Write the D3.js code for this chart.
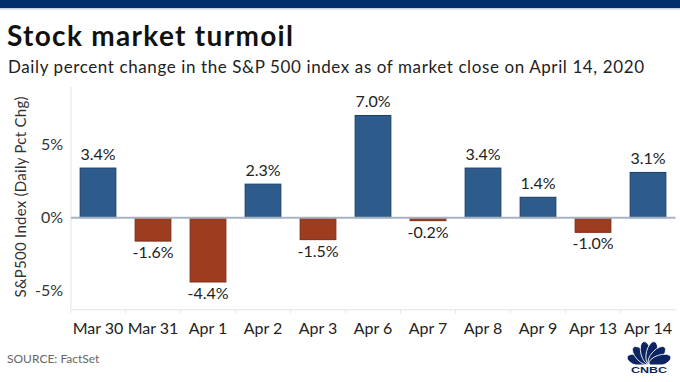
<!DOCTYPE html>
<html>
<head>
<meta charset="utf-8">
<script src="https://cdn.jsdelivr.net/npm/d3@7"></script>
<style>
    body { margin: 0; background: #fff; }
    svg { display: block; font-family: Lato, "Open Sans", sans-serif; }
</style>
</head>
<body>
<div id="chart"></div>
<script>
// data
const days = ['Mar 30', 'Mar 31', 'Apr 1', 'Apr 2', 'Apr 3', 'Apr 6', 'Apr 7', 'Apr 8', 'Apr 9', 'Apr 13', 'Apr 14'];
const pctChange = [3.4, -1.6, -4.4, 2.3, -1.5, 7.0, -0.2, 3.4, 1.4, -1.0, 3.1];
const yTicks = [-5, 0, 5];

var width = 680, height = 382;
const margin = { top: 87, right: 5, bottom: 73, left: 71 };

const svg = d3.select('#chart')
    .append('svg')
    .attr('width', width)
    .attr('height', height);

// top band
svg.append('rect').attr('x', 0).attr('y', 0).attr('width', width).attr('height', 8).attr('fill', '#002f6c');
svg.append('rect').attr('x', 0).attr('y', 8).attr('width', width).attr('height', 1.5).attr('fill', '#c9d3e6');

svg.append('text')
    .attr('x', 7).attr('y', 46)
    .attr('font-size', 28).attr('font-weight', 'bold').attr('fill', '#111')
    .attr('textLength', 286).attr('lengthAdjust', 'spacing')
    .text('Stock market turmoil');

svg.append('text')
    .attr('x', 8).attr('y', 73)
    .attr('font-size', 17).attr('fill', '#222')
    .attr('textLength', 636).attr('lengthAdjust', 'spacing')
    .text('Daily percent change in the S&P 500 index as of market close on April 14, 2020');

const x = d3.scaleBand()
    .domain(days)
    .range([margin.left - 0.5, margin.left - 0.5 + 55 * days.length])
    .paddingInner(0.35)
    .paddingOuter(0.175);

const y = d3.scaleLinear()
    .domain([-6.27, 8.95])
    .range([height - margin.bottom + 0.3, margin.top]);

const g = svg.append('g');

// left and bottom frame
g.append('line')
    .attr('x1', margin.left).attr('x2', margin.left)
    .attr('y1', margin.top).attr('y2', y(-6.27))
    .attr('stroke', '#e3e3e3').attr('stroke-width', 1);

const xAxis = g.append('g')
    .attr('transform', `translate(0, ${y(-6.27)})`)
    .call(d3.axisBottom(x).tickSize(0).tickPadding(13));
xAxis.select('.domain').attr('stroke', '#e3e3e3');
xAxis.selectAll('text').attr('font-size', 16).attr('fill', '#222').attr('font-family', 'Lato, sans-serif');

// separators between categories
g.selectAll('.sep')
    .data(days)
    .enter()
    .append('line')
    .attr('class', 'sep')
    .attr('x1', d => x(d) - x.step() * x.paddingInner() / 2)
    .attr('x2', d => x(d) - x.step() * x.paddingInner() / 2)
    .attr('y1', y(-6.27))
    .attr('y2', y(-6.27) + 4)
    .attr('stroke', '#e6e6e6');

const yAxis = g.append('g')
    .attr('transform', `translate(${margin.left}, 0)`)
    .call(d3.axisLeft(y).tickValues(yTicks).tickSize(0).tickPadding(8).tickFormat(d => d + '%'));
yAxis.select('.domain').remove();
yAxis.selectAll('text').attr('font-size', 16).attr('fill', '#333').attr('font-family', 'Lato, sans-serif');

svg.append('text')
    .attr('transform', `translate(26, ${197}) rotate(-90)`)
    .attr('text-anchor', 'middle')
    .attr('font-size', 15).attr('fill', '#333')
    .attr('textLength', 201).attr('lengthAdjust', 'spacing')
    .text('S&P500 Index (Daily Pct Chg)');

// bars
g.selectAll('.bar')
    .data(pctChange)
    .enter()
    .append('rect')
    .attr('class', 'bar')
    .attr('x', (d, i) => x(days[i]))
    .attr('width', x.bandwidth())
    .attr('y', d => y(Math.max(0, d)))
    .attr('height', d => Math.abs(y(d) - y(0)))
    .attr('fill', d => d >= 0 ? '#2d5c8c' : '#9e3c1f')
    .attr('stroke', d => d >= 0 ? '#1c3d66' : '#7d2c14')
    .attr('stroke-width', 1);

// zero line
g.append('line')
    .attr('x1', margin.left).attr('x2', x.range()[1])
    .attr('y1', y(0)).attr('y2', y(0))
    .attr('stroke', '#a7b3c2').attr('stroke-width', 2);

// value labels
g.selectAll('.lbl')
    .data(pctChange)
    .enter()
    .append('text')
    .attr('class', 'lbl')
    .attr('x', (d, i) => x(days[i]) + x.bandwidth() / 2)
    .attr('y', d => d >= 0 ? y(d) - 8 : y(d) + 17)
    .attr('text-anchor', 'middle')
    .attr('font-size', 16).attr('fill', '#222')
    .text(d => d.toFixed(1) + '%');

svg.append('text')
    .attr('x', 7).attr('y', 363)
    .attr('font-size', 12).attr('fill', '#666')
    .text('SOURCE: FactSet');

// CNBC peacock
const logo = svg.append('g').attr('transform', 'translate(649, 364)');
[-72, -43, -14, 14, 43, 72].forEach(a => {
    logo.append('ellipse')
        .attr('cx', 0).attr('cy', -11.5)
        .attr('rx', 5.4).attr('ry', 11.5)
        .attr('transform', `rotate(${a})`)
        .attr('fill', '#0c2461')
        .attr('stroke', '#fff').attr('stroke-width', 0.8);
});
logo.append('rect').attr('x', -22).attr('y', 0.5).attr('width', 44).attr('height', 12).attr('fill', '#fff');
logo.append('text')
    .attr('x', 0).attr('y', 9)
    .attr('text-anchor', 'middle')
    .attr('font-size', 9).attr('font-weight', 900).attr('fill', '#0c2461')
    .attr('font-family', 'Arial, "Liberation Sans", sans-serif')
    .attr('textLength', 36).attr('lengthAdjust', 'spacingAndGlyphs')
    .text('CNBC');
</script>
</body>
</html>
